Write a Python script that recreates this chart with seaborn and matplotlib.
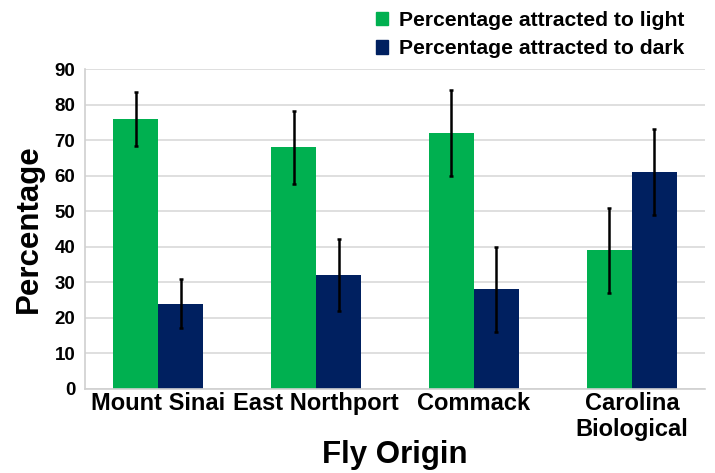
import matplotlib
matplotlib.use("Agg")
import matplotlib.pyplot as plt
import seaborn as sns
import pandas as pd
import numpy as np

# data
origins = ["Mount Sinai", "East Northport", "Commack", "Carolina\nBiological"]
light_pct = [76, 68, 72, 39]
dark_pct = [24, 32, 28, 61]
light_err = [7.6, 10.3, 12, 12]
dark_err = [6.9, 10.2, 12, 12]
series = ["Percentage attracted to light", "Percentage attracted to dark"]
colors = ["#00B050", "#002060"]

df = pd.DataFrame({
    "origin": origins * 2,
    "series": [series[0]] * 4 + [series[1]] * 4,
    "pct": light_pct + dark_pct,
    "err": light_err + dark_err,
})

sns.set_theme(style="white")
plt.rcParams["font.family"] = ["Liberation Sans", "DejaVu Sans"]
plt.rcParams["font.weight"] = "bold"
plt.rcParams["text.color"] = "black"

fig = plt.figure(figsize=(7.15, 4.73), dpi=100)
ax = fig.add_axes([0.119, 0.178, 0.867, 0.676])

sns.barplot(data=df, x="origin", y="pct", hue="series", order=origins,
            hue_order=series, palette=colors, width=0.57, errorbar=None,
            saturation=1, linewidth=0, ax=ax, zorder=2)

# error bars placed on the bars seaborn drew
for i, s in enumerate(series):
    sub = df[df["series"] == s].set_index("origin").loc[origins]
    bars = ax.containers[i]
    xs = [b.get_x() + b.get_width() / 2 for b in bars]
    ax.errorbar(xs, sub["pct"], yerr=sub["err"], fmt="none", ecolor="black",
                elinewidth=1.8, capsize=1.2, capthick=1.8, zorder=3)

ax.set_ylim(0, 90)
ax.set_yticks(np.arange(0, 91, 10))
ax.yaxis.grid(True, color="#d9d9d9", lw=1.2, zorder=0)
ax.set_axisbelow(True)
for side in ["top", "right"]:
    ax.spines[side].set_visible(False)
for side in ["left", "bottom"]:
    ax.spines[side].set_color("#d0d0d0")
    ax.spines[side].set_linewidth(1.2)

ax.tick_params(axis="y", labelsize=13.5, length=4, color="#d0d0d0", pad=3,
               labelcolor="black")
ax.tick_params(axis="x", labelsize=17, length=0, pad=2, labelcolor="black")
for lab in ax.get_xticklabels() + ax.get_yticklabels():
    lab.set_fontweight("bold")
ax.set_xticks([0.5, 1.5, 2.5], minor=True)
ax.tick_params(axis="x", which="minor", length=4, color="#d0d0d0")

ax.set_ylabel("Percentage", fontsize=22.5, fontweight="bold", labelpad=8,
              color="black")
ax.set_xlabel("Fly Origin", fontsize=22.5, fontweight="bold", color="black")
ax.xaxis.set_label_coords(0.5, -0.16)

ax.legend_.remove()
handles = [plt.Rectangle((0, 0), 1, 1, color=c) for c in colors]
fig.legend(handles, series, loc="upper left", bbox_to_anchor=(0.499, 1.017),
           frameon=False, prop={"size": 15.2, "weight": "bold"},
           handlelength=0.6, handleheight=0.6, handletextpad=0.5,
           labelspacing=0.45)

fig.savefig("out.png", dpi=100)
